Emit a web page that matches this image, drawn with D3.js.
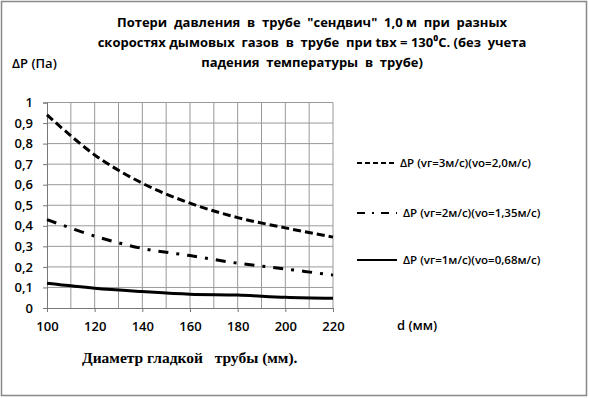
<!DOCTYPE html>
<html>
<head>
<meta charset="utf-8">
<script src="https://cdn.jsdelivr.net/npm/d3@7"></script>
<style>
  body { margin: 0; background: #fff; }
  text { font-family: "Open Sans", "Noto Sans", sans-serif; fill: #000; }
</style>
</head>
<body>
<svg id="chart" width="589" height="398"></svg>
<script>
// diameters, mm
var diameters = [100, 120, 140, 160, 180, 200, 220];

// pressure losses, Pa
var dp3 = [0.94, 0.745, 0.607, 0.51, 0.44, 0.39, 0.345];
var dp2 = [0.43, 0.35, 0.29, 0.255, 0.218, 0.19, 0.16];
var dp1 = [0.12, 0.096, 0.08, 0.067, 0.063, 0.052, 0.047];

var seriesNames = [
    "\u0394P (vг=3м/с)(vо=2,0м/с)",
    "\u0394P (vг=2м/с)(vо=1,35м/с)",
    "\u0394P (vг=1м/с)(vо=0,68м/с)"
];

var yTicks = [0, 0.1, 0.2, 0.3, 0.4, 0.5, 0.6, 0.7, 0.8, 0.9, 1];
var xTicks = [100, 120, 140, 160, 180, 200, 220];
var xGrid = [110, 120, 130, 140, 150, 160, 170, 180, 190, 200, 210, 220];

var titleLines = [
    "Потери  давления  в  трубе  \"сендвич\"  1,0 м  при  разных",
    "скоростях дымовых  газов  в  трубе  при tвх = 130\u2070C. (без  учета",
    "падения  температуры  в  трубе)"
];

var svg = d3.select("#chart");

// outer frame
svg.append("rect")
    .attr("x", 1.5).attr("y", 1.5)
    .attr("width", 585).attr("height", 394)
    .attr("fill", "none")
    .attr("stroke", "#888")
    .attr("stroke-width", 1.5);

var x = d3.scaleLinear().domain([100, 220]).range([47, 333]);
var y = d3.scaleLinear().domain([0, 1]).range([308, 102.5]);

// grid
svg.append("g").selectAll("line")
    .data(yTicks.slice(1))
    .enter().append("line")
    .attr("x1", x(100)).attr("x2", x(220))
    .attr("y1", function (d) { return y(d); })
    .attr("y2", function (d) { return y(d); })
    .attr("stroke", "#999").attr("stroke-width", 1);

svg.append("g").selectAll("line")
    .data(xGrid)
    .enter().append("line")
    .attr("x1", function (d) { return x(d); })
    .attr("x2", function (d) { return x(d); })
    .attr("y1", y(0)).attr("y2", y(1))
    .attr("stroke", "#999").attr("stroke-width", 1);

// axes
var yAxis = d3.axisLeft(y).tickValues(yTicks).tickSize(4)
    .tickFormat(function (d) { return d3.format(".1~f")(d).replace(".", ","); });
var gy = svg.append("g").attr("transform", "translate(" + x(100) + ",0)").call(yAxis);
gy.select(".domain").attr("stroke", "#777");
gy.selectAll(".tick line").attr("stroke", "#777");
gy.selectAll("text").attr("x", -14).style("font-size", "13px").style("font-weight", "600")
    .style("font-family", "'Open Sans', sans-serif");

var xAxis = d3.axisBottom(x).tickValues(xTicks).tickSize(4).tickFormat(d3.format("d"));
var gx = svg.append("g").attr("transform", "translate(0," + y(0) + ")").call(xAxis);
gx.select(".domain").attr("stroke", "#777");
gx.selectAll(".tick line").attr("stroke", "#777");
gx.selectAll("text").attr("y", 14).style("font-size", "13px").style("font-weight", "600")
    .style("font-family", "'Open Sans', sans-serif");

// lines
var series = [
    { values: dp3, dash: "8,4" },
    { values: dp2, dash: "10,8,3,8" },
    { values: dp1, dash: null }
];

var line = d3.line()
    .x(function (d, i) { return x(diameters[i]); })
    .y(function (d) { return y(d); })
    .curve(d3.curveCatmullRom);

series.forEach(function (s) {
    svg.append("path")
        .datum(s.values)
        .attr("d", line)
        .attr("fill", "none")
        .attr("stroke", "#000")
        .attr("stroke-width", 3)
        .attr("stroke-dasharray", s.dash);
});

// legend
var legY = [163, 213, 260];
series.forEach(function (s, i) {
    svg.append("line")
        .attr("x1", 357).attr("x2", 397)
        .attr("y1", legY[i]).attr("y2", legY[i])
        .attr("stroke", "#000").attr("stroke-width", 2)
        .attr("stroke-dasharray", i == 0 ? "5,3" : (i == 1 ? "8,7,2,7" : null));
    svg.append("text")
        .attr("x", i == 0 ? 400 : 403).attr("y", legY[i] + 4)
        .text(seriesNames[i])
        .style("font-size", "11.5px").style("font-weight", "600");
});

// title
svg.selectAll(".title")
    .data(titleLines)
    .enter().append("text")
    .attr("x", 312)
    .attr("y", function (d, i) { return 27 + i * 20; })
    .attr("text-anchor", "middle")
    .style("font-size", "13px").style("font-weight", "700")
    .style("white-space", "pre")
    .attr("xml:space", "preserve")
    .text(function (d) { return d; });

svg.append("text")
    .attr("x", 12).attr("y", 68)
    .text("\u0394P (Па)")
    .style("font-size", "13px").style("font-weight", "600");

svg.append("text")
    .attr("x", 397).attr("y", 330)
    .text("d (мм)")
    .style("font-size", "13px").style("font-weight", "600");

svg.append("text")
    .attr("x", 82).attr("y", 363)
    .attr("xml:space", "preserve")
    .text("Диаметр гладкой   трубы (мм).")
    .style("font-family", "'Liberation Serif', serif")
    .style("font-size", "15.5px").style("font-weight", "700");
</script>
</body>
</html>
